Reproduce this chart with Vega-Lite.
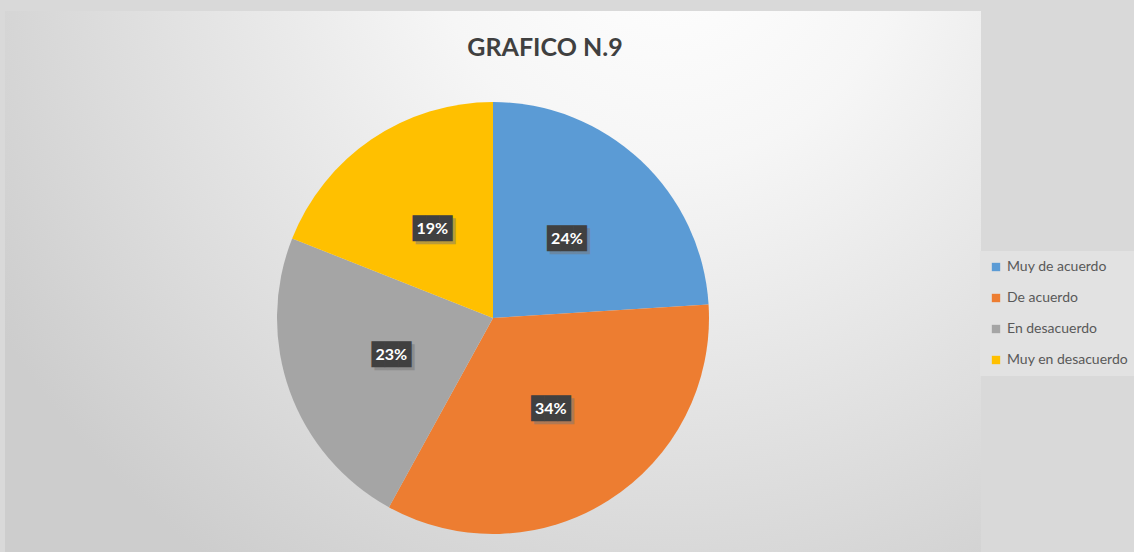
{
  "$schema": "https://vega.github.io/schema/vega-lite/v6.json",
  "autosize": "none",
  "width": 976,
  "height": 614,
  "padding": {"left": 5, "top": 11, "right": 153, "bottom": -73},
  "background": "#d9d9d9",
  "view": {
    "stroke": null,
    "fill": {
      "gradient": "radial",
      "x1": 0.68, "y1": 0.1, "r1": 0,
      "x2": 0.68, "y2": 0.1, "r2": 0.8,
      "stops": [
        {"offset": 0, "color": "#ffffff"},
        {"offset": 0.3, "color": "#f6f6f6"},
        {"offset": 1, "color": "#cdcdcd"}
      ]
    }
  },
  "title": {
    "text": "GRAFICO N.9",
    "font": "Lato",
    "fontSize": 25,
    "fontWeight": "bold",
    "color": "#404040",
    "anchor": "middle",
    "frame": "group",
    "dx": 52,
    "dy": 19,
    "baseline": "alphabetic",
    "offset": -51
  },
  "data": {
    "values": [
      {"respuesta": "Muy de acuerdo", "porcentaje": 24, "orden": 1, "etiqueta": "24%"},
      {"respuesta": "De acuerdo", "porcentaje": 34, "orden": 2, "etiqueta": "34%"},
      {"respuesta": "En desacuerdo", "porcentaje": 23, "orden": 3, "etiqueta": "23%"},
      {"respuesta": "Muy en desacuerdo", "porcentaje": 19, "orden": 4, "etiqueta": "19%"}
    ]
  },
  "encoding": {
    "theta": {"field": "porcentaje", "type": "quantitative", "stack": true},
    "order": {"field": "orden", "type": "quantitative"}
  },
  "layer": [
    {
      "mark": {"type": "arc", "outerRadius": 216, "stroke": null},
      "encoding": {
        "color": {
          "field": "respuesta",
          "type": "nominal",
          "scale": {
            "domain": ["Muy de acuerdo", "De acuerdo", "En desacuerdo", "Muy en desacuerdo"],
            "range": ["#5B9BD5", "#ED7D31", "#A5A5A5", "#FFC000"]
          },
          "legend": {
            "title": null,
            "orient": "none",
            "legendX": 975,
            "legendY": 240,
            "padding": 9,
            "fillColor": "#e2e2e2",
            "symbolType": "square",
            "symbolSize": 70,
            "symbolStrokeWidth": 0,
            "labelFont": "Lato",
            "labelFontSize": 14,
            "labelColor": "#595959",
            "labelOffset": 4,
            "rowPadding": 17
          }
        }
      }
    },
    {
      "mark": {"type": "text", "radius": 108, "font": "DejaVu Sans Mono", "fontSize": 22, "text": "███", "color": "#777777", "opacity": 0.5, "dx": 3, "dy": 3}
    },
    {
      "mark": {"type": "text", "radius": 108, "font": "DejaVu Sans Mono", "fontSize": 22, "text": "███", "color": "#404040"}
    },
    {
      "mark": {"type": "text", "radius": 108, "font": "Lato", "fontSize": 16, "fontWeight": "bold", "color": "#ffffff"},
      "encoding": {"text": {"field": "etiqueta", "type": "nominal"}}
    }
  ]
}
